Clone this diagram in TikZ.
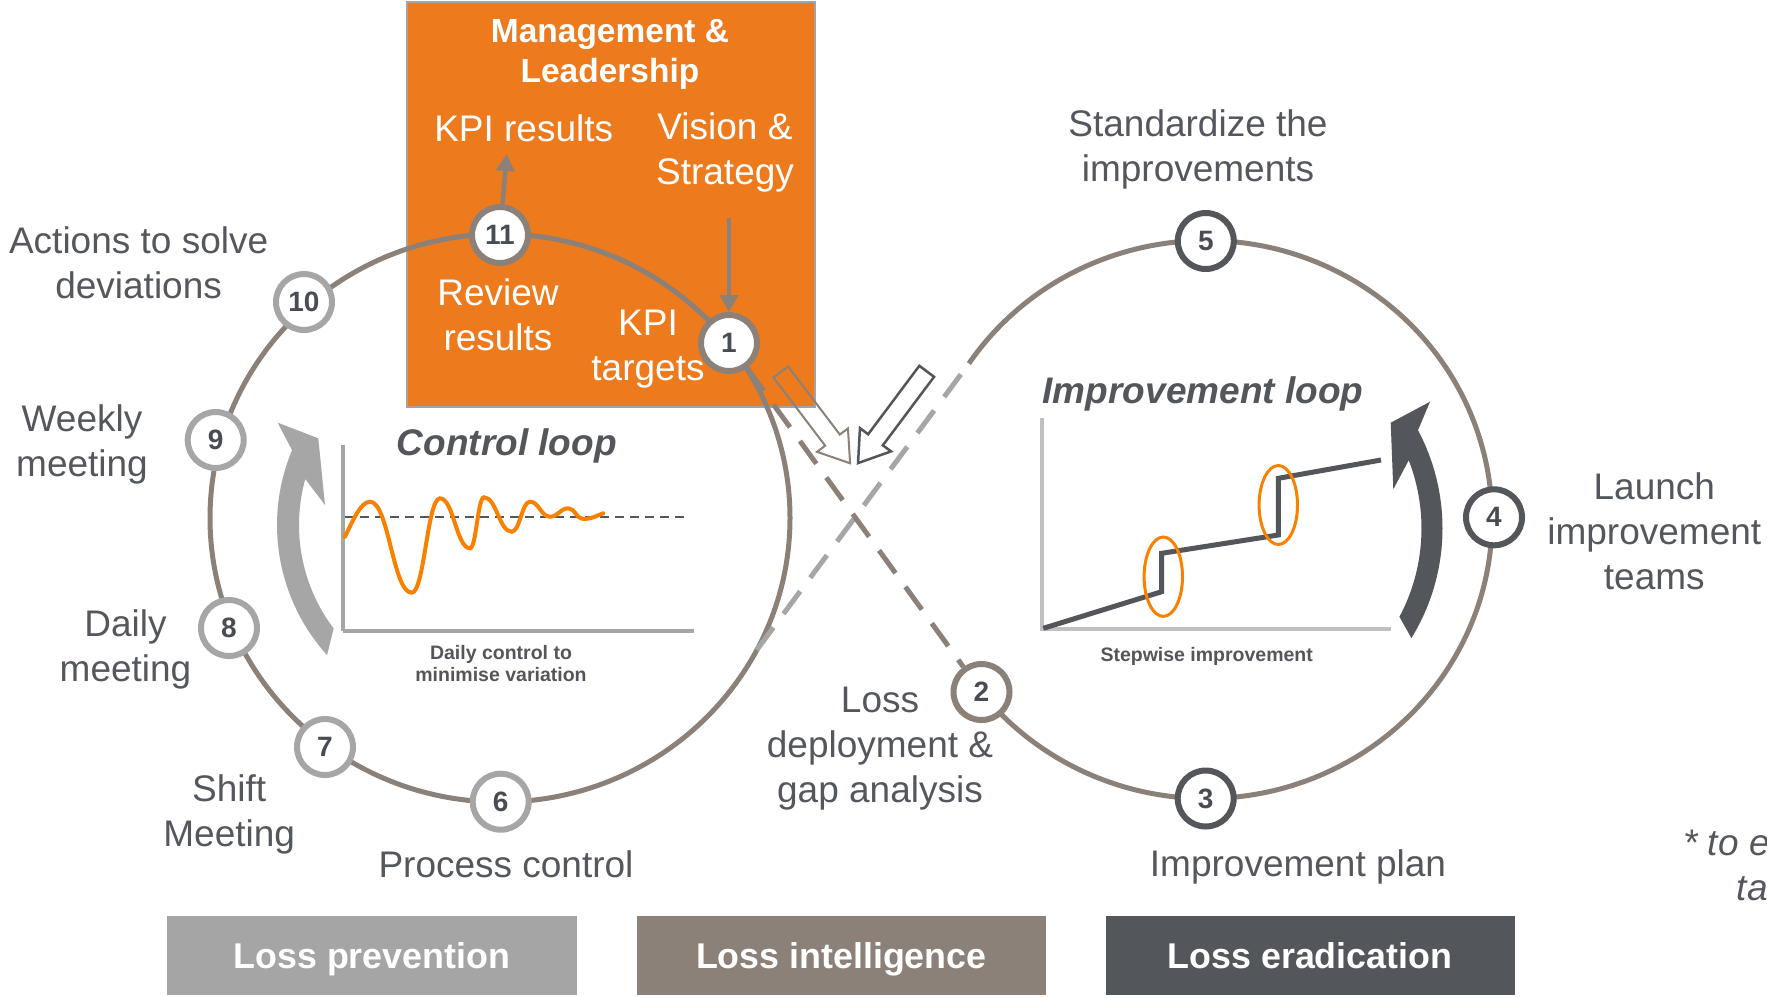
\documentclass[tikz,border=0pt]{standalone}
\usepackage{fontspec}
\setmainfont{Liberation Sans}
\usetikzlibrary{arrows.meta}
\definecolor{boxorange}{RGB}{237,122,29}
\definecolor{waveorange}{RGB}{250,128,0}
\definecolor{taupe}{RGB}{139,129,120}
\definecolor{lgray}{RGB}{166,166,166}
\definecolor{dgray}{RGB}{83,86,90}
\definecolor{txtgray}{RGB}{84,88,94}
\definecolor{numgray}{RGB}{72,77,84}
\definecolor{axgray}{RGB}{192,192,192}
\definecolor{boxedge}{RGB}{163,163,163}
\pgfdeclarelayer{back}
\pgfdeclarelayer{mid}
\pgfsetlayers{back,mid,main}
\tikzset{
  stepnum/.style={circle, draw, fill=white, line width=6pt, minimum size=56pt, inner sep=0pt,
    font=\fontsize{28}{28}\selectfont\bfseries, text=numgray},
  graylab/.style={align=center, inner sep=0pt, text=txtgray, font=\fontsize{37}{45}\selectfont},
  whitelab/.style={align=center, inner sep=0pt, text=white, font=\fontsize{37}{45}\selectfont},
  looptitle/.style={inner sep=0pt, text=dgray, font=\fontsize{37}{45}\selectfont\bfseries\itshape, anchor=base},
  chartcap/.style={align=center, inner sep=0pt, text=dgray, font=\fontsize{19.5}{22}\selectfont\bfseries},
  bandbox/.style={inner sep=0pt, minimum width=409pt, minimum height=79pt, text=white,
    font=\fontsize{35.8}{40}\selectfont\bfseries, text height=25.6pt, text depth=0pt},
  bigline/.style={line width=5pt},
  hollow/.style={line width=2pt, line join=miter},
  flowarrow/.style={taupe, line width=4.5pt, -{Triangle[length=17pt,width=18pt]}},
  notetext/.style={inner sep=0pt, text=txtgray, font=\fontsize{37}{45}\selectfont\itshape, anchor=base west},
}
\begin{document}
\begin{tikzpicture}[x=1pt,y=1pt]
\useasboundingbox (0,0) rectangle (1767,-997);

% ---------- background and orange box ----------
\begin{pgfonlayer}{back}
  \fill[white] (0,0) rectangle (1767,-997);
  \node[draw=boxedge, line width=2pt, fill=boxorange, minimum width=408pt, minimum height=404.8pt, inner sep=0pt]
    (mgmtbox) at (610.7,-204.4) {};
\end{pgfonlayer}

% ---------- step nodes ----------
\node[stepnum, draw=taupe] (n1) at (729,-343) {1};
\node[stepnum, draw=taupe] (n2) at (981.5,-692) {2};
\node[stepnum, draw=dgray] (n3) at (1205.7,-798.5) {3};
\node[stepnum, draw=dgray] (n4) at (1494,-517.3) {4};
\node[stepnum, draw=dgray] (n5) at (1205.8,-241) {5};
\node[stepnum, draw=lgray] (n6) at (500.7,-801.7) {6};
\node[stepnum, draw=lgray] (n7) at (325,-747) {7};
\node[stepnum, draw=lgray] (n8) at (229,-628) {8};
\node[stepnum, draw=lgray] (n9) at (215.7,-440) {9};
\node[stepnum, draw=lgray] (n10) at (304,-302) {10};
\node[stepnum, draw=taupe] (n11) at (500,-235) {11};

% ---------- loops and crossing lines ----------
\coordinate (lcenter) at (500,-518);
\coordinate (gxa) at (756.7,-650);
\coordinate (gxb) at (968.9,-363.5);
\coordinate (visfrom) at (729,-218);
\coordinate (kpitip) at (506.7,-154);
\begin{pgfonlayer}{mid}
  \draw[taupe, bigline] (lcenter) ellipse [x radius=290, y radius=284];
  \draw[taupe, bigline] (gxb) arc[start angle=146, end angle=-141.8, x radius=286, y radius=279];
  \draw[lgray, bigline, dash pattern=on 28pt off 17pt] (gxa) -- (gxb);
  \draw[taupe, bigline, dash pattern=on 28pt off 17pt] (n1) -- (n2);
\end{pgfonlayer}

% ---------- arrows in the management box ----------
\draw[flowarrow] (n11) -- (kpitip);
\draw[flowarrow] (visfrom) -- (n1);

% ---------- texts in the orange box ----------
\node[whitelab, font=\fontsize{33.5}{40}\selectfont\bfseries] (mgmt) at (610,-54.6) {Management \&\\Leadership};
\node[whitelab, anchor=base] (kpires) at (523.7,-141.7) {KPI results};
\node[whitelab] (vision) at (725,-152.6) {Vision \&\\Strategy};
\node[whitelab] (review) at (498,-314.5) {Review\\results};
\node[whitelab] (kpitgt) at (648,-349.2) {KPI\\targets};

% ---------- outer labels ----------
\node[graylab] (actions) at (138.6,-262.5) {Actions to solve\\deviations};
\node[graylab] (weekly) at (82,-444.2) {Weekly\\meeting};
\node[graylab] (daily) at (125.5,-649.2) {Daily\\meeting};
\node[graylab] (shift) at (229.2,-814.9) {Shift\\Meeting};
\node[graylab, anchor=base] (process) at (506,-877) {Process control};
\node[graylab] (loss) at (880,-748.7) {Loss\\deployment \&\\gap analysis};
\node[graylab, anchor=base] (implan) at (1298,-876) {Improvement plan};
\node[graylab] (launch) at (1654.3,-531) {Launch\\improvement\\teams};
\node[graylab] (standard) at (1198,-149.2) {Standardize the\\improvements};

% ---------- hollow arrows at the crossing ----------
\begin{scope}[shift={(780.8,-372)}, rotate=-52.8]
  \draw[taupe, hollow] (0,-9.2) -- (85.5,-9.2) -- (85.5,-19.4) -- (114.6,0) -- (85.5,19.4) -- (85.5,9.2) -- (0,9.2) -- cycle;
\end{scope}
\begin{scope}[shift={(926.7,-371.3)}, rotate=-126.8]
  \draw[dgray, hollow, line width=2.5pt] (0,-9.2) -- (85.5,-9.2) -- (85.5,-19.4) -- (114.6,0) -- (85.5,19.4) -- (85.5,9.2) -- (0,9.2) -- cycle;
\end{scope}

% ---------- control loop chart ----------
\node[looptitle] (ctitle) at (506.7,-455) {Control loop};
\draw[lgray, line width=4pt] (342.7,-445) -- (342.7,-631);
\draw[lgray, line width=4pt] (342.7,-630.5) -- (694.3,-630.5);
\draw[dgray, line width=2pt, dash pattern=on 9pt off 6pt] (345,-516.7) -- (688,-516.7);
\draw[waveorange, line width=4pt, line cap=round]
  (345,-536.7) .. controls (353,-520) and (361,-501.7) .. (370,-501.7)
  .. controls (388.8,-501.7) and (392.9,-592.7) .. (411.7,-592.7)
  .. controls (424.4,-592.7) and (427.3,-498.3) .. (440,-498.3)
  .. controls (453.5,-498.3) and (456.5,-548.3) .. (470,-548.3)
  .. controls (476.3,-548.3) and (477.7,-497.3) .. (484,-497.3)
  .. controls (496.5,-497.3) and (499.2,-531.7) .. (511.7,-531.7)
  .. controls (519.9,-531.7) and (521.8,-501.7) .. (530,-501.7)
  .. controls (539,-501.7) and (541,-516.7) .. (550,-516.7)
  .. controls (558.2,-516.7) and (560.1,-508.3) .. (568.3,-508.3)
  .. controls (575,-508.3) and (576.6,-519) .. (583.3,-519)
  .. controls (592,-519) and (598,-515) .. (603.3,-513.3);
\node[chartcap] (ccap) at (501,-663.5) {Daily control to\\minimise variation};

% ---------- improvement loop chart ----------
\node[looptitle] (ititle) at (1203,-403) {Improvement loop};
\draw[axgray, line width=4pt] (1041.7,-418.3) -- (1041.7,-631);
\draw[axgray, line width=4pt] (1041.7,-629.3) -- (1390.7,-629.3);
\draw[dgray, line width=5pt, line join=miter]
  (1043.3,-628.3) -- (1161.7,-591.7) -- (1161.7,-553.3) -- (1278.3,-535) -- (1278.3,-478.3) -- (1381,-460);
\draw[waveorange, line width=3pt] (1163.3,-576.7) ellipse [x radius=19.2, y radius=39.7];
\draw[waveorange, line width=3pt] (1278.3,-505) ellipse [x radius=19.2, y radius=39.5];
\node[chartcap, anchor=base] (scap) at (1206.7,-661.7) {Stepwise improvement};

% ---------- big curved arrows ----------
\fill[lgray] ([shift={(222.1:194)}]471,-525) arc[start angle=222.1, end angle=157.3, radius=194]
  -- (277.7,-422.7) -- (318.3,-438.3) -- (325,-505)
  -- ([shift={(164.5:172)}]471,-525) arc[start angle=164.5, end angle=217, radius=172] -- cycle;
\fill[dgray] ([shift={(-31.66:209)}]1233.5,-528.4) arc[start angle=-31.66, end angle=28.03, radius=209]
  -- (1430,-401.7) -- (1390.7,-422.7) -- (1393.3,-489.3)
  -- ([shift={(21.25:188)}]1233.5,-528.4) arc[start angle=21.25, end angle=-28.04, radius=188] -- cycle;

% ---------- bottom bands ----------
\node[bandbox, fill={rgb,255:red,165;green,165;blue,165}, minimum width=410pt] (bprev) at (371.9,-955.5) {Loss prevention};
\node[bandbox, fill=taupe] (bintel) at (841.25,-955.5) {Loss intelligence};
\node[bandbox, fill=dgray] (berad) at (1310,-955.5) {Loss eradication};

% ---------- footnote (cut by the edge) ----------
\node[notetext] (note1) at (1683,-855) {* to e};
\node[notetext] (note2) at (1736.5,-900) {ta};
\end{tikzpicture}
\end{document}
